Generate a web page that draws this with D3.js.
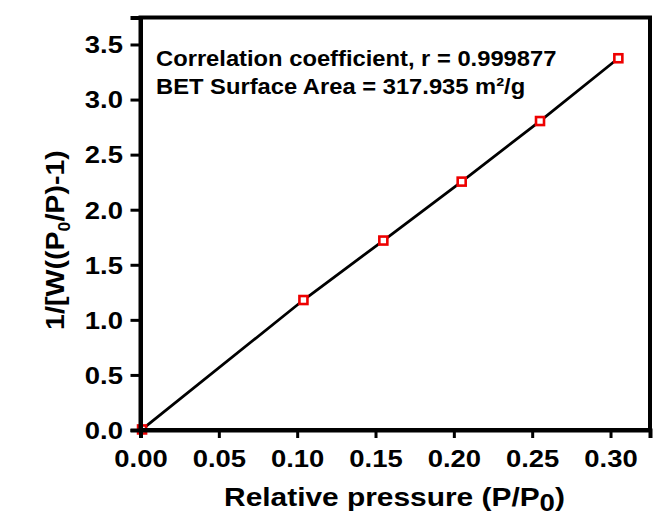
<!DOCTYPE html>
<html>
<head>
<meta charset="utf-8">
<script src="https://cdn.jsdelivr.net/npm/d3@7"></script>
<style>
  body { margin: 0; background: #fff; }
  svg { font-family: "Liberation Sans", Arial, sans-serif; font-weight: bold; }
</style>
</head>
<body>
<svg id="chart"></svg>
<script>
// BET plot data
const pressure = [0.001, 0.104, 0.155, 0.205, 0.255, 0.305];
const betValue = [0.005, 1.18, 1.72, 2.255, 2.805, 3.375];
const xTicks = [0, 0.05, 0.10, 0.15, 0.20, 0.25, 0.30];
const yTicks = [0, 0.5, 1.0, 1.5, 2.0, 2.5, 3.0, 3.5];
const notes = ["Correlation coefficient, r = 0.999877", "BET Surface Area = 317.935 m\u00b2/g"];

const width = 653;
const height = 519;
const margin = { top: 17.5, right: 3, bottom: 89, left: 140.5 };
const stretch = 1.12; // the lettering in the picture is a bit wider than Arial

const svg = d3.select("#chart")
    .attr("width", width)
    .attr("height", height);

const xScale = d3.scaleLinear()
    .domain([0, 0.3252])
    .range([margin.left, width - margin.right]);

const yScale = d3.scaleLinear()
    .domain([0, 3.745])
    .range([height - margin.bottom, margin.top]);

const data = pressure.map((p, i) => ({ x: p, y: betValue[i] }));

// line through points
svg.append("path")
    .datum(data)
    .attr("fill", "none")
    .attr("stroke", "#000")
    .attr("stroke-width", 2.8)
    .attr("d", d3.line().x(d => xScale(d.x)).y(d => yScale(d.y)));

// markers
svg.selectAll("rect.pt")
    .data(data)
    .enter().append("rect")
    .attr("class", "pt")
    .attr("x", d => xScale(d.x) - 4)
    .attr("y", d => yScale(d.y) - 4)
    .attr("width", 8)
    .attr("height", 8)
    .attr("fill", "#fff")
    .attr("stroke", "#ee0000")
    .attr("stroke-width", 2.6);

// frame
svg.append("rect")
    .attr("x", margin.left)
    .attr("y", margin.top)
    .attr("width", width - margin.right - margin.left)
    .attr("height", height - margin.bottom - margin.top)
    .attr("fill", "none")
    .attr("stroke", "#000")
    .attr("stroke-width", 4);

const xAxis = svg.append("g")
    .attr("transform", `translate(0, ${height - margin.bottom})`)
    .call(d3.axisBottom(xScale).tickValues(xTicks).tickFormat(d3.format(".2f")).tickSize(8).tickPadding(12));

const yPad = 7.5, yTick = 10;
const yAxis = svg.append("g")
    .attr("transform", `translate(${margin.left}, 0)`)
    .call(d3.axisLeft(yScale).tickValues(yTicks).tickFormat(d3.format(".1f")).tickSize(yTick).tickPadding(yPad));

[xAxis, yAxis].forEach(a => {
    a.select(".domain").attr("stroke-width", 4);
    a.selectAll(".tick line").attr("stroke-width", 3);
    a.selectAll("text")
        .style("font-size", "24.5px")
        .style("font-weight", "bold")
        .style("font-family", "Liberation Sans, Arial, sans-serif")
        .attr("fill", "#000")
        .attr("transform", `scale(${stretch},1)`);
});
yAxis.selectAll("text")
    .attr("x", -(yTick + yPad) / stretch)
    .attr("dy", "0.34em");

// annotations
svg.selectAll("text.note")
    .data(notes)
    .enter().append("text")
    .attr("class", "note")
    .attr("transform", (d, i) => `translate(156, ${66 + i * 28.3}) scale(1.08,1)`)
    .style("font-size", "22px")
    .text(d => d);

// x title
const xt = svg.append("text")
    .attr("transform", "translate(394.5, 506) scale(1.15,1)")
    .attr("text-anchor", "middle")
    .style("font-size", "26px");
xt.append("tspan").text("Relative pressure (P/P");
xt.append("tspan").attr("dy", 5).style("font-size", "24px").text("0");
xt.append("tspan").attr("dy", -5).text(")");

// y title
const yt = svg.append("text")
    .attr("transform", "translate(64, 240) rotate(-90) scale(1.1,1)")
    .attr("text-anchor", "middle")
    .style("font-size", "26px");
yt.append("tspan").text("1/[W((P");
yt.append("tspan").attr("dy", 6).style("font-size", "16px").text("0");
yt.append("tspan").attr("dy", -6).text("/P)-1)");
</script>
</body>
</html>
